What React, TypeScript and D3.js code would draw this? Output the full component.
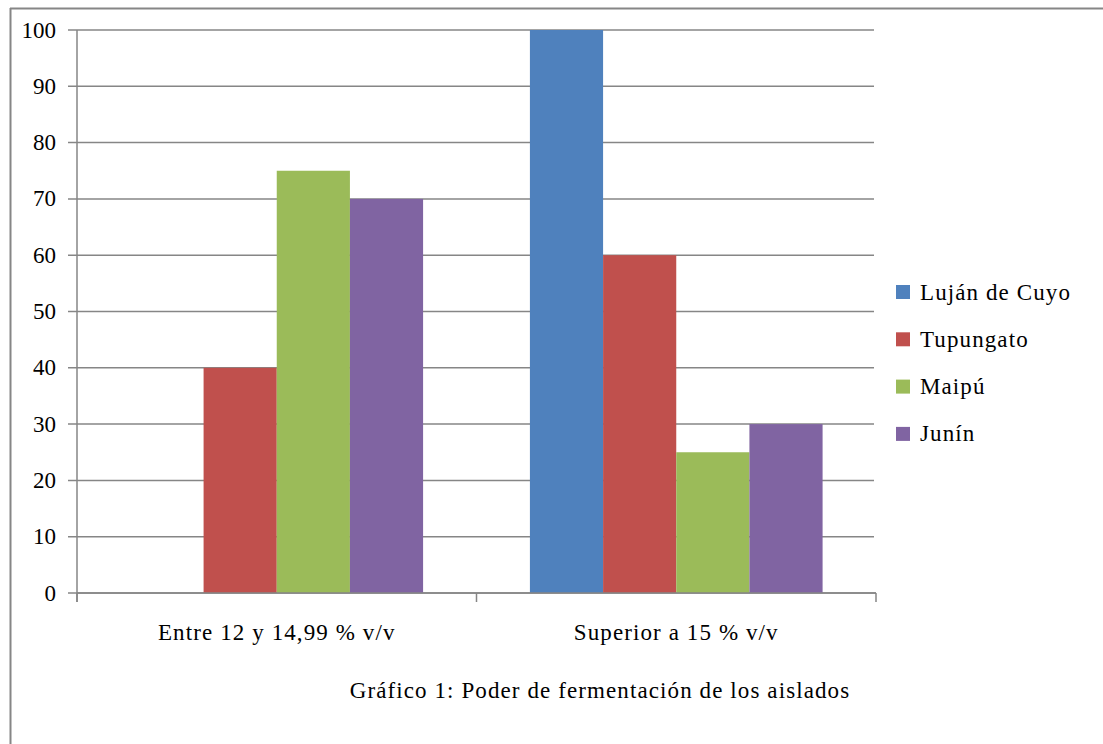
import React from "react";
import * as d3 from "d3";

const categories = ["Entre 12 y 14,99 % v/v", "Superior a 15 % v/v"];
const seriesNames = ["Luján de Cuyo", "Tupungato", "Maipú", "Junín"];
const lujanValues = [0, 100];
const tupungatoValues = [40, 60];
const maipuValues = [75, 25];
const juninValues = [70, 30];
const seriesColors = ["#4F81BD", "#C0504D", "#9BBB59", "#8064A2"];
const yTicks = [0, 10, 20, 30, 40, 50, 60, 70, 80, 90, 100];
const caption = "Gráfico 1: Poder de fermentación de los aislados";

export default function App() {
  const W = 1103, H = 744;
  const left = 77, right = 876, top = 30, bottom = 593;
  const values = [lujanValues, tupungatoValues, maipuValues, juninValues];
  const x0 = d3.scaleBand<string>().domain(categories).range([left, right]).paddingInner(0).paddingOuter(0);
  const x1 = d3.scaleBand<string>().domain(seriesNames).range([0, x0.bandwidth()]).paddingOuter(0.73).paddingInner(0);
  const y = d3.scaleLinear().domain([0, 100]).range([bottom, top]);
  const grid = "#868686";
  const font = "'Liberation Serif', 'Times New Roman', serif";
  const fs = 23;
  const ls = 1.1;
  return (
    <svg width={W} height={H} style={{ position: "absolute", left: 0, top: 0 }}>
      <rect x={0} y={0} width={W} height={H} fill="#fff" />
      <line x1={10} y1={8.5} x2={W} y2={8.5} stroke={grid} strokeWidth={2} />
      <line x1={10.5} y1={8} x2={10.5} y2={H} stroke={grid} strokeWidth={2} />
      {yTicks.map((t) => (
        <g key={t}>
          <line x1={left - 9} x2={t === 0 ? right : right - 2} y1={y(t)} y2={y(t)} stroke={grid} strokeWidth={1.5} />
          <text x={56} y={y(t)} dy="0.33em" textAnchor="end" fontFamily={font} fontSize={fs} fill="#000">{t}</text>
        </g>
      ))}
      {categories.map((c, ci) => (
        <g key={c}>
          {seriesNames.map((s, si) => {
            const v = values[si][ci];
            if (!v) return null;
            return (
              <rect key={s} x={(x0(c) as number) + (x1(s) as number)} y={y(v)} width={x1.bandwidth()} height={bottom - y(v)} fill={seriesColors[si]} />
            );
          })}
        </g>
      ))}
      <line x1={left} x2={left} y1={top} y2={bottom + 9} stroke={grid} strokeWidth={1.5} />
      <line x1={left} x2={right} y1={bottom} y2={bottom} stroke={grid} strokeWidth={1.5} />
      {[...categories.map((c) => x0(c) as number), right].map((xv, i) => (
        <line key={i} x1={xv} x2={xv} y1={bottom} y2={bottom + 9} stroke={grid} strokeWidth={1.5} />
      ))}
      {categories.map((c) => (
        <text key={c} x={(x0(c) as number) + x0.bandwidth() / 2} y={632} dy="0.33em" textAnchor="middle" fontFamily={font} fontSize={fs} letterSpacing={ls} fill="#000">{c}</text>
      ))}
      {seriesNames.map((s, i) => (
        <g key={s}>
          <rect x={896} y={285 + i * 47.3} width={14} height={14} fill={seriesColors[i]} />
          <text x={920} y={292 + i * 47.3} dy="0.33em" fontFamily={font} fontSize={fs} letterSpacing={ls} fill="#000">{s}</text>
        </g>
      ))}
      <text x={600} y={690} dy="0.33em" textAnchor="middle" fontFamily={font} fontSize={fs} letterSpacing={ls} fill="#000">{caption}</text>
    </svg>
  );
}
